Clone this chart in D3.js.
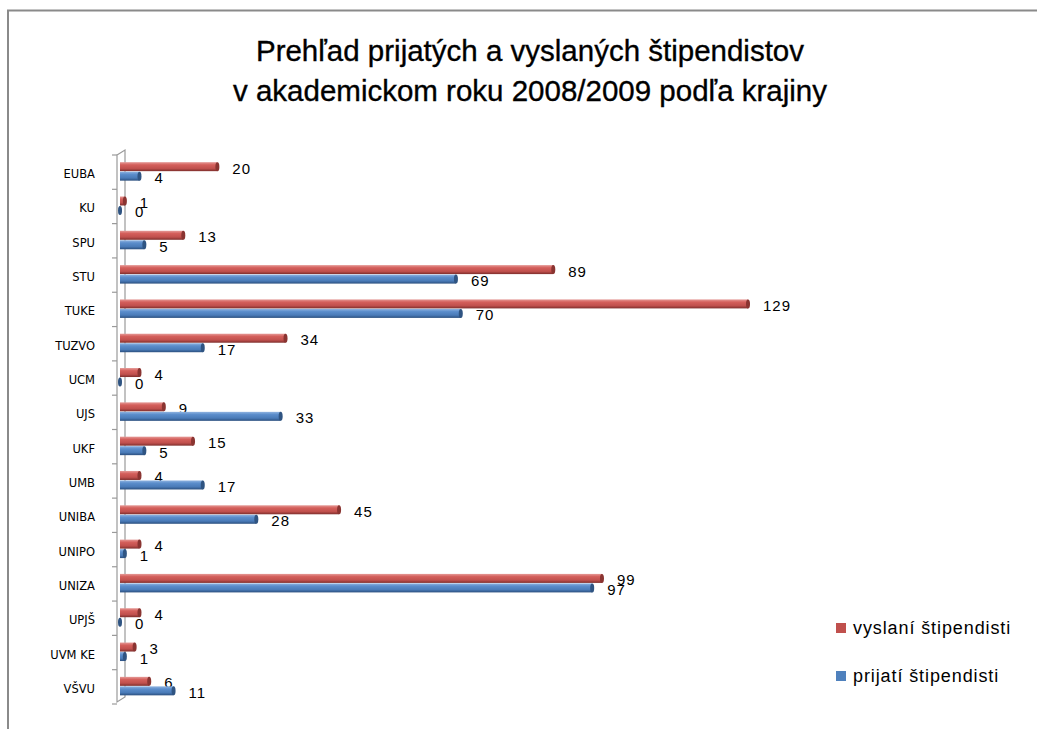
<!DOCTYPE html>
<html>
<head>
<meta charset="utf-8">
<script src="https://cdn.jsdelivr.net/npm/d3@7"></script>
<style>
  body { margin: 0; background: #fff; }
  svg { display: block; }
</style>
</head>
<body>
<div id="chart"></div>
<script>
// Chart data
const categories = ["EUBA", "KU", "SPU", "STU", "TUKE", "TUZVO", "UCM", "UJS", "UKF", "UMB", "UNIBA", "UNIPO", "UNIZA", "UPJŠ", "UVM KE", "VŠVU"];
const vyslani = [20, 1, 13, 89, 129, 34, 4, 9, 15, 4, 45, 4, 99, 4, 3, 6];
const prijati = [4, 0, 5, 69, 70, 17, 0, 33, 5, 17, 28, 1, 97, 0, 1, 11];
const titleLines = ["Prehľad prijatých a vyslaných štipendistov", "v akademickom  roku 2008/2009 podľa krajiny"];
const seriesNames = ["vyslaní štipendisti", "prijatí štipendisti"];

const width = 1037, height = 729;

const svg = d3.select("#chart").append("svg")
  .attr("width", width)
  .attr("height", height);

// Outer chart frame (only top and left edges are visible)
svg.append("path")
  .attr("d", `M8,${height} L8,10.5 L${width},10.5`)
  .attr("fill", "none")
  .attr("stroke", "#8a8a8a")
  .attr("stroke-width", 2);

// Title
svg.append("g").selectAll("text")
  .data(titleLines)
  .join("text")
  .attr("x", 530)
  .attr("y", (d, i) => 61 + i * 40)
  .attr("text-anchor", "middle")
  .style("font-family", "'Liberation Sans', Arial, sans-serif")
  .style("font-size", "29.5px")
  .style("fill", "#000")
  .style("stroke", "#000")
  .style("stroke-width", "0.35px")
  .text((d) => d);

// Scales
const x = d3.scaleLinear().domain([0, 129]).range([120, 748]);
const y = d3.scaleBand().domain(categories).range([155, 704]).padding(0);

// Gradients for the cylinder-like bars
const defs = svg.append("defs");
function addGradient(id, stops) {
  const g = defs.append("linearGradient")
    .attr("id", id)
    .attr("x1", "0%").attr("x2", "0%")
    .attr("y1", "0%").attr("y2", "100%");
  stops.forEach(([o, c]) => g.append("stop").attr("offset", o).attr("stop-color", c));
}
addGradient("grad-red", [["0%", "#e59a97"], ["30%", "#d45f5b"], ["70%", "#c0504d"], ["100%", "#7e2e2c"]]);
addGradient("grad-blue", [["0%", "#8fb3e0"], ["30%", "#5b8dcb"], ["70%", "#4a7bb8"], ["100%", "#2b4f7e"]]);

// Axis with 3D wall
const axis = svg.append("g").attr("stroke", "#9a9a9a").attr("fill", "none");
axis.append("path")
  .attr("d", `M117,155 L125,150 L125,697 L117,702 Z`)
  .attr("stroke-width", 1.2);
axis.selectAll("line.tick")
  .data(categories.concat(["__end"]))
  .join("line")
  .attr("class", "tick")
  .attr("x1", 112).attr("x2", 117)
  .attr("y1", (d, i) => y.range()[0] + i * y.step())
  .attr("y2", (d, i) => y.range()[0] + i * y.step())
  .attr("stroke-width", 1.2);

// Category labels
svg.append("g").selectAll("text")
  .data(categories)
  .join("text")
  .attr("x", 95)
  .attr("y", (d) => y(d) + y.bandwidth() / 2 + 6)
  .attr("text-anchor", "end")
  .style("font-family", "'DejaVu Sans', Verdana, sans-serif")
  .style("font-size", "11.5px")
  .style("fill", "#000")
  .text((d) => d);

// Bars
const series = [
  { name: seriesNames[0], values: vyslani, grad: "grad-red", cap: "#8a3431", fill: "#c0504d", off: -10, labelDy: 1.5 },
  { name: seriesNames[1], values: prijati, grad: "grad-blue", cap: "#2f5482", fill: "#4f81bd", off: -0.5, labelDy: 11 }
];
const barH = 9;

series.forEach((s) => {
  const g = svg.append("g");
  const rows = categories.map((c, i) => ({ c, v: s.values[i] }));
  const cy = (d) => y(d.c) + y.bandwidth() / 2;

  g.selectAll("rect")
    .data(rows)
    .join("rect")
    .attr("x", x(0))
    .attr("y", (d) => cy(d) + s.off)
    .attr("width", (d) => x(d.v) - x(0))
    .attr("height", barH)
    .attr("fill", `url(#${s.grad})`);

  g.selectAll("ellipse")
    .data(rows)
    .join("ellipse")
    .attr("cx", (d) => x(d.v))
    .attr("cy", (d) => cy(d) + s.off + barH / 2)
    .attr("rx", 2)
    .attr("ry", barH / 2)
    .attr("fill", s.cap);

  g.selectAll("text")
    .data(rows)
    .join("text")
    .attr("x", (d) => x(d.v) + 15)
    .attr("y", (d) => cy(d) + s.labelDy)
    .style("font-family", "'Liberation Sans', Arial, sans-serif")
    .style("font-size", "15px")
    .style("letter-spacing", "1px")
    .style("fill", "#000")
    .text((d) => d.v);
});

// Legend
const legend = svg.append("g");
legend.selectAll("rect")
  .data(series)
  .join("rect")
  .attr("x", 836)
  .attr("y", (d, i) => 623 + i * 48)
  .attr("width", 10)
  .attr("height", 10)
  .attr("fill", (d) => d.fill);
legend.selectAll("text")
  .data(series)
  .join("text")
  .attr("x", 853)
  .attr("y", (d, i) => 634 + i * 48)
  .style("font-family", "'Liberation Sans', Arial, sans-serif")
  .style("font-size", "18px")
  .style("letter-spacing", "0.9px")
  .style("fill", "#000")
  .text((d) => d.name);
</script>
</body>
</html>
